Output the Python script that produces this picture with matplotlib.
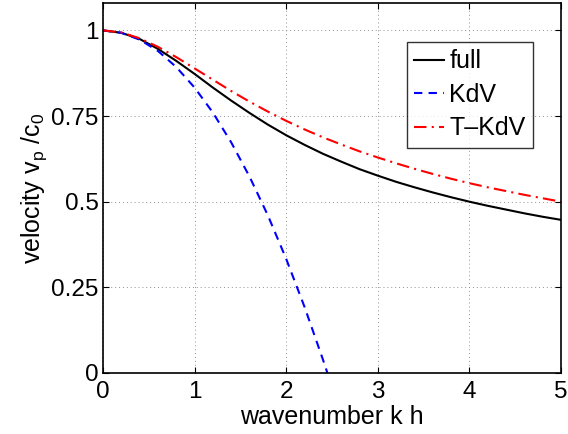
import matplotlib
matplotlib.use("Agg")
import matplotlib.pyplot as plt

# wavenumber k h
kh = [0.0, 0.2, 0.4, 0.6, 0.8, 1.0, 1.2, 1.4, 1.6, 1.8, 2.0, 2.2, 2.4, 2.6,
      2.8, 3.0, 3.2, 3.4, 3.6, 3.8, 4.0, 4.2, 4.4, 4.6, 4.8, 5.0]

# phase velocity
full = [1.000, 0.993, 0.975, 0.946, 0.911, 0.873, 0.833, 0.795, 0.759, 0.725,
        0.694, 0.666, 0.640, 0.617, 0.595, 0.576, 0.558, 0.542, 0.527, 0.513,
        0.500, 0.488, 0.477, 0.466, 0.456, 0.447]
tkdv = [1.000, 0.994, 0.977, 0.952, 0.922, 0.889, 0.856, 0.823, 0.792, 0.763,
        0.736, 0.711, 0.688, 0.667, 0.647, 0.629, 0.612, 0.596, 0.581, 0.567,
        0.554, 0.542, 0.531, 0.520, 0.510, 0.500]

kh_kdv = [0.0, 0.2, 0.4, 0.6, 0.8, 1.0, 1.2, 1.4, 1.6, 1.8, 2.0, 2.2, 2.4, 2.45]
kdv = [1.000, 0.993, 0.973, 0.940, 0.893, 0.833, 0.760, 0.673, 0.573, 0.460,
       0.333, 0.193, 0.040, 0.000]

yticks = [0, 0.25, 0.5, 0.75, 1]
ytick_labels = ['0', '0.25', '0.5', '0.75', '1']

plt.rcParams['font.family'] = ['Liberation Sans', 'DejaVu Sans']
plt.rcParams['mathtext.fontset'] = 'custom'
plt.rcParams['mathtext.rm'] = 'Liberation Sans'

fig = plt.figure(figsize=(5.68, 4.34), dpi=100)
ax = fig.add_axes([0.1813, 0.1406, 0.8064, 0.8525])

ax.plot(kh, full, color='black', lw=1.5, label='full')
ax.plot(kh_kdv, kdv, color='blue', lw=1.5, ls=(0, (4, 3)), label='KdV')
ax.plot(kh, tkdv, color='red', lw=1.5, ls=(0, (6, 2.5, 1, 2.5)), label='T\u2013KdV')

ax.set_xlim(0, 5)
ax.set_ylim(0, 1.08)
ax.set_xticks([0, 1, 2, 3, 4, 5])
ax.set_yticks(yticks)
ax.set_yticklabels(ytick_labels)
ax.tick_params(direction='in', top=True, right=True, labelsize=17.5, length=4)
ax.tick_params(axis='x', pad=6)
ax.tick_params(axis='y', pad=3)
ax.grid(True, color='#909090', ls=(0, (1, 3)), lw=0.7)
for s in ax.spines.values():
    s.set_linewidth(1.2)

ax.set_xlabel('wavenumber k h', fontsize=18, labelpad=1)
ax.set_ylabel(r'velocity v$_\mathrm{p}$ /c$_\mathrm{0}$', fontsize=18, labelpad=2)

leg = ax.legend(loc='upper right', bbox_to_anchor=(0.939, 0.895), fontsize=18,
                frameon=True, fancybox=False, edgecolor='black',
                handlelength=1.2, handletextpad=0.2, borderpad=0.3,
                labelspacing=0.38, borderaxespad=0)
leg.get_frame().set_linewidth(1.0)

fig.savefig('out.png', dpi=100)
